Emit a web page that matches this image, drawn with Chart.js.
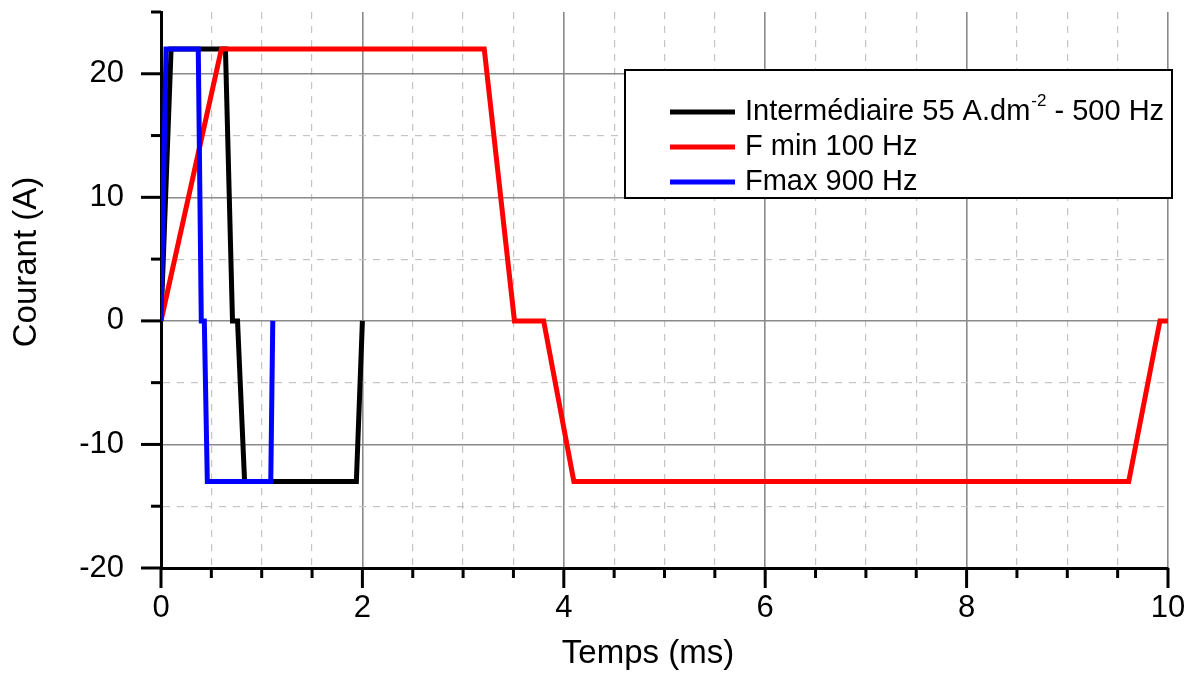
<!DOCTYPE html>
<html>
<head>
<meta charset="utf-8">
<script src="https://cdn.jsdelivr.net/npm/chart.js@4.4.0/dist/chart.umd.min.js"></script>
<style>
  html, body { margin: 0; padding: 0; background: #fff; }
</style>
</head>
<body>
<canvas id="courantCanvas" width="1197" height="673"></canvas>
<script>
// Formes d'onde du courant pulsé (3 fréquences)
const seriesLabels = ['Intermédiaire 55 A.dm⁻² - 500 Hz', 'F min 100 Hz', 'Fmax 900 Hz'];
const seriesColors = ['#000000', '#ff0000', '#0000ff'];

const blackX = [0, 0.1, 0.64, 0.71, 0.76, 0.83, 1.94, 2.0];
const blackY = [0, 22, 22, 0, 0, -13, -13, 0];

const redX = [0, 0.6, 3.21, 3.51, 3.8, 4.1, 9.61, 9.92, 10];
const redY = [0, 22, 22, 0, 0, -13, -13, 0, 0];

const blueX = [0, 0.05, 0.37, 0.4, 0.43, 0.46, 1.09, 1.11];
const blueY = [0, 22, 22, 0, 0, -13, -13, 0];

const xTickLabels = [0, 2, 4, 6, 8, 10];
const yTickLabels = [-20, -10, 0, 10, 20];

const xTitle = 'Temps (ms)';
const yTitle = 'Courant (A)';

const FONT = "'Liberation Sans', Arial, sans-serif";

function toPoints(xs, ys) {
    return xs.map((x, i) => ({ x: x, y: ys[i] }));
}

const seriesData = [toPoints(blackX, blackY), toPoints(redX, redY), toPoints(blueX, blueY)];

function gridColor(labels, hideValue) {
    return c => {
        if (!c.tick) return '#000';
        if (c.tick.value === hideValue) return 'rgba(0,0,0,0)';
        return labels.includes(c.tick.value) ? '#8a8a8a' : '#c4c4c4';
    };
}
function gridDash(labels) {
    return c => (c.tick && !labels.includes(c.tick.value)) ? [7, 7] : [];
}

// ticks majeurs / mineurs, titres et légende dessinés à la main
const decorPlugin = {
    id: 'decor',
    afterDraw(chart) {
        const { ctx, chartArea: a, scales: { x, y } } = chart;
        ctx.save();
        ctx.strokeStyle = '#000';
        ctx.lineWidth = 3;
        x.ticks.forEach(t => {
            const px = x.getPixelForValue(t.value);
            const len = xTickLabels.includes(t.value) ? 20 : 10;
            ctx.beginPath();
            ctx.moveTo(px, a.bottom);
            ctx.lineTo(px, a.bottom + len);
            ctx.stroke();
        });
        y.ticks.forEach(t => {
            const py = y.getPixelForValue(t.value);
            const len = yTickLabels.includes(t.value) ? 20 : 10;
            ctx.beginPath();
            ctx.moveTo(a.left, py);
            ctx.lineTo(a.left - len, py);
            ctx.stroke();
        });

        // titres des axes
        ctx.fillStyle = '#000';
        ctx.font = '33px ' + FONT;
        ctx.textAlign = 'center';
        ctx.textBaseline = 'middle';
        ctx.fillText(xTitle, 648, 654);
        ctx.save();
        ctx.translate(27, 262);
        ctx.rotate(-Math.PI / 2);
        ctx.fillText(yTitle, 0, 0);
        ctx.restore();

        // légende
        const box = { left: 625, top: 70, right: 1172, bottom: 198 };
        ctx.fillStyle = '#fff';
        ctx.fillRect(box.left, box.top, box.right - box.left, box.bottom - box.top);
        ctx.lineWidth = 2;
        ctx.strokeStyle = '#000';
        ctx.strokeRect(box.left, box.top, box.right - box.left, box.bottom - box.top);

        ctx.textAlign = 'left';
        chart.data.datasets.forEach((ds, i) => {
            const ly = 112 + i * 35;
            ctx.strokeStyle = ds.borderColor;
            ctx.lineWidth = 5;
            ctx.beginPath();
            ctx.moveTo(670, ly);
            ctx.lineTo(735, ly);
            ctx.stroke();

            ctx.fillStyle = '#000';
            const parts = ds.label.split('⁻²');
            let tx = 745;
            ctx.font = '29px ' + FONT;
            ctx.fillText(parts[0], tx, ly);
            if (parts.length > 1) {
                tx += ctx.measureText(parts[0]).width + 1;
                ctx.font = '17px ' + FONT;
                ctx.fillText('-2', tx, ly - 11);
                tx += ctx.measureText('-2').width;
                ctx.font = '29px ' + FONT;
                ctx.fillText(parts[1], tx, ly);
            }
        });
        ctx.restore();
    }
};

const ctx = document.getElementById('courantCanvas').getContext('2d');
const chart = new Chart(ctx, {
    type: 'line',
    data: {
        datasets: seriesLabels.map((label, i) => ({
            label: label,
            data: seriesData[i],
            borderColor: seriesColors[i],
            backgroundColor: seriesColors[i],
            borderWidth: 5,
            pointRadius: 0,
            tension: 0,
            fill: false,
            order: 3 - i
        }))
    },
    options: {
        responsive: false,
        animation: false,
        layout: { padding: { top: 12, right: 29, left: 0, bottom: 0 } },
        plugins: {
            legend: { display: false },
            tooltip: { enabled: false }
        },
        scales: {
            x: {
                type: 'linear',
                min: 0,
                max: 10,
                afterFit: s => {
                    s.height = 105;
                    s.paddingLeft = 0;
                    s.paddingRight = 0;
                },
                ticks: {
                    stepSize: 0.5,
                    autoSkip: false,
                    maxRotation: 0,
                    padding: 22,
                    color: '#000',
                    font: { family: FONT, size: 31 },
                    callback: v => xTickLabels.includes(v) ? String(v) : ''
                },
                grid: {
                    drawTicks: false,
                    color: gridColor(xTickLabels, 0),
                    lineWidth: c => (c.tick && xTickLabels.includes(c.tick.value)) ? 1.6 : 1.2
                },
                border: { color: '#000', width: 3, dash: gridDash(xTickLabels) }
            },
            y: {
                min: -20,
                max: 25,
                afterFit: s => {
                    s.width = 161;
                    s.paddingTop = 0;
                    s.paddingBottom = 0;
                },
                ticks: {
                    stepSize: 5,
                    autoSkip: false,
                    padding: 37,
                    color: '#000',
                    font: { family: FONT, size: 31 },
                    callback: v => yTickLabels.includes(v) ? String(v) : ''
                },
                grid: {
                    drawTicks: false,
                    color: gridColor(yTickLabels, 25),
                    lineWidth: c => (c.tick && yTickLabels.includes(c.tick.value)) ? 1.6 : 1.2
                },
                border: { color: '#000', width: 3, dash: gridDash(yTickLabels) }
            }
        }
    },
    plugins: [decorPlugin]
});
</script>
</body>
</html>
